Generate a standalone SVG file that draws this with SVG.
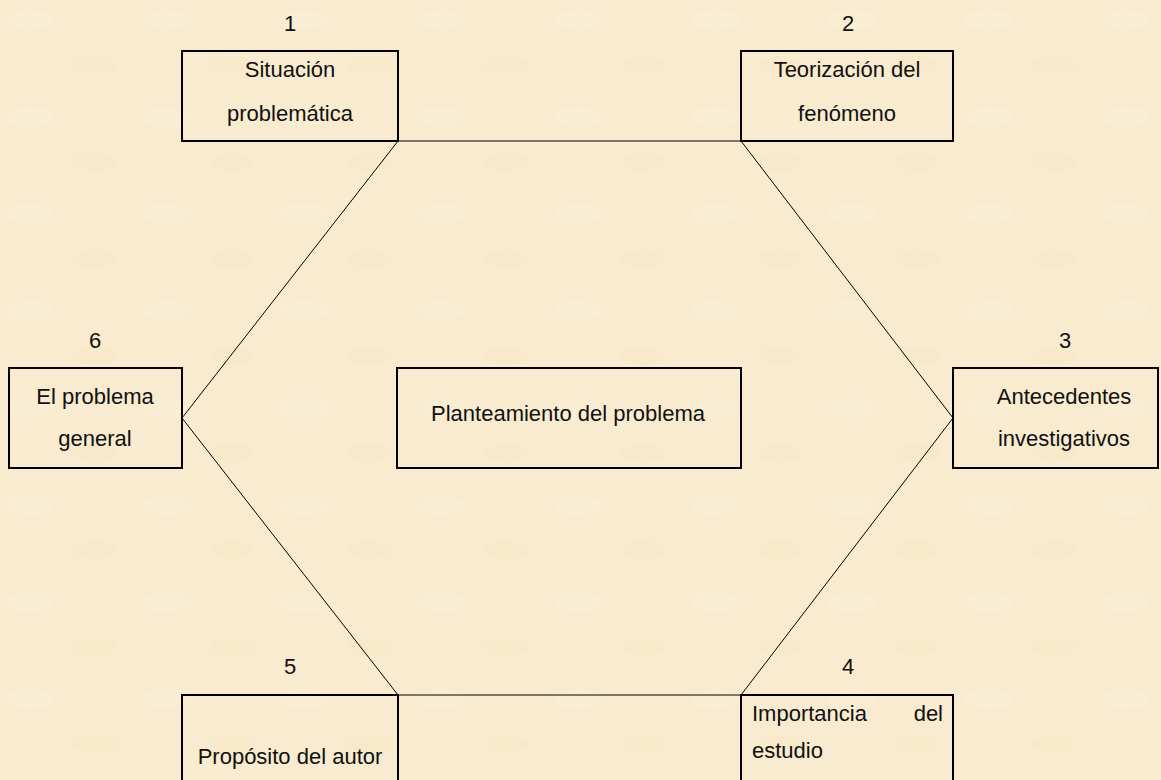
<svg xmlns="http://www.w3.org/2000/svg" width="1161" height="780" viewBox="0 0 1161 780">
<style>
.box{fill:none;stroke:#000;stroke-width:2}
.t{font-family:"Liberation Sans",Arial,sans-serif;font-size:22px;fill:#111;text-anchor:middle}
.l{text-anchor:start}
.r{text-anchor:end}
.c line{stroke:#000;stroke-width:1}
</style>
<defs>
<pattern id="p" width="137" height="97" patternUnits="userSpaceOnUse">
<rect width="137" height="97" fill="#f8ebcf"/>
<ellipse cx="30" cy="20" rx="24" ry="10" fill="#faefd8" opacity="0.5"/>
<ellipse cx="95" cy="65" rx="22" ry="9" fill="#f5e5c4" opacity="0.4"/>
</pattern>
</defs>
<rect width="1161" height="780" fill="url(#p)"/>
<g class="c" id="connectors">
<line x1="398" y1="141" x2="741" y2="141"/>
<line x1="398" y1="141" x2="182" y2="418"/>
<line x1="741" y1="141" x2="953" y2="418"/>
<line x1="182" y1="418" x2="398" y2="695"/>
<line x1="953" y1="418" x2="741" y2="695"/>
<line x1="398" y1="695" x2="741" y2="695"/>
</g>
<g id="n1">
<text class="t" x="290" y="31">1</text>
<rect class="box" x="182" y="51" width="216" height="90"/>
<text class="t" x="290" y="77">Situación</text>
<text class="t" x="290" y="121">problemática</text>
</g>
<g id="n2">
<text class="t" x="848" y="31">2</text>
<rect class="box" x="741" y="51" width="212" height="90"/>
<text class="t" x="847" y="77">Teorización del</text>
<text class="t" x="847" y="121">fenómeno</text>
</g>
<g id="n3">
<text class="t" x="1065" y="348">3</text>
<rect class="box" x="953" y="368" width="205" height="100"/>
<text class="t" x="1064" y="404">Antecedentes</text>
<text class="t" x="1064" y="446">investigativos</text>
</g>
<g id="n4">
<text class="t" x="848" y="674">4</text>
<rect class="box" x="741" y="695" width="212" height="90"/>
<text class="t l" x="752" y="721">Importancia</text>
<text class="t r" x="943" y="721">del</text>
<text class="t l" x="752" y="758">estudio</text>
</g>
<g id="n5">
<text class="t" x="290" y="674">5</text>
<rect class="box" x="182" y="695" width="216" height="90"/>
<text class="t" x="290" y="764">Propósito del autor</text>
</g>
<g id="n6">
<text class="t" x="95" y="348">6</text>
<rect class="box" x="9" y="368" width="173" height="100"/>
<text class="t" x="95" y="404">El problema</text>
<text class="t" x="95" y="446">general</text>
</g>
<g id="center">
<rect class="box" x="397" y="368" width="344" height="100"/>
<text class="t" x="568" y="421">Planteamiento del problema</text>
</g>
</svg>
